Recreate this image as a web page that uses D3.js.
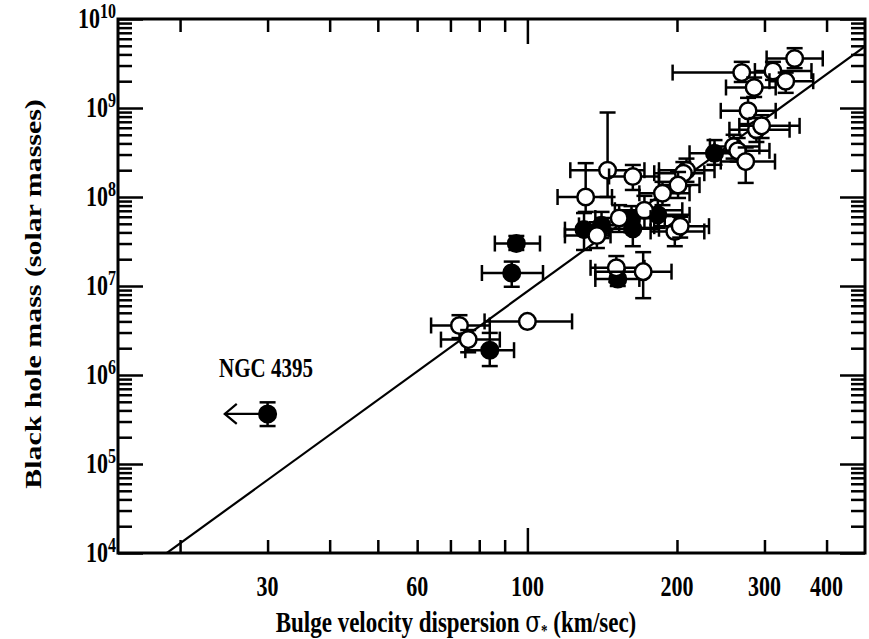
<!DOCTYPE html>
<html>
<head>
<meta charset="utf-8">
<script src="https://cdn.jsdelivr.net/npm/d3@7"></script>
<style>
  html, body { margin: 0; padding: 0; background: #fff; }
  svg text { font-family: "Liberation Serif", "Times New Roman", serif; font-weight: bold; fill: #000; }
</style>
</head>
<body>
<div id="chart"></div>
<script>
// [sigma, sigmaLo, sigmaHi, mass, massLo, massHi]
const openPoints = [
  [345, 303, 393, 3.6e9, 2.8e9, 4.7e9],
  [270, 196, 316, 2.5e9, 1.96e9, 3.3e9],
  [312, 287, 373, 2.6e9, 2.07e9, 3.3e9],
  [331, 307, 376, 2.0e9, 1.48e9, 2.5e9],
  [286, 251, 316, 1.7e9, 1.33e9, 2.2e9],
  [278, 245, 316, 9.3e8, 6.6e8, 1.3e9],
  [289, 255, 337, 5.7e8, 4.15e8, 7.7e8],
  [296, 267, 353, 6.3e8, 4.6e8, 8.3e8],
  [260, 233, 293, 3.7e8, 2.7e8, 5.0e8],
  [265, 238, 307, 3.3e8, 2.5e8, 4.6e8],
  [275, 245, 315, 2.5e8, 1.44e8, 3.6e8],
  [209, 184, 238, 2.0e8, 1.48e8, 2.7e8],
  [206, 180, 227, 1.85e8, 1.33e8, 2.47e8],
  [201, 184, 222, 1.36e8, 9.75e7, 1.91e8],
  [187, 168, 212, 1.1e8, 8.1e7, 1.48e8],
  [145, 122, 172, 2.0e8, 1.0e8, 8.9e8],
  [163, 146, 184, 1.7e8, 1.2e8, 2.29e8],
  [131, 115, 148, 1.0e8, 6.8e7, 2.4e8],
  [172, 150, 205, 7.1e7, 4.5e7, 1.03e8],
  [153, 137, 177, 5.8e7, 4.05e7, 8.1e7],
  [138, 119, 147, 3.7e7, 2.67e7, 5.2e7],
  [198, 177, 227, 4.1e7, 2.8e7, 6.1e7],
  [203, 180, 232, 4.7e7, 3.5e7, 6.0e7],
  [151, 134, 172, 1.6e7, 1.11e7, 2.17e7],
  [171, 137, 195, 1.45e7, 7.3e6, 2.4e7],
  [100, 82, 123, 4.0e6, 4.0e6, 4.0e6],
  [73, 64, 84, 3.6e6, 2.6e6, 4.7e6],
  [76, 67, 88, 2.5e6, 1.8e6, 3.2e6]
];

const filledPoints = [
  [238, 212, 270, 3.1e8, 2.3e8, 4.36e8],
  [183, 168, 212, 6.3e7, 4.5e7, 9.25e7],
  [162, 153, 189, 5.8e7, 4.05e7, 7.9e7],
  [163, 146, 184, 4.4e7, 2.8e7, 6.8e7],
  [141, 127, 157, 4.8e7, 3.46e7, 6.8e7],
  [130, 119, 140, 4.3e7, 2.54e7, 6.6e7],
  [95, 86, 106, 3.0e7, 2.54e7, 3.65e7],
  [93, 81, 107.5, 1.4e7, 9.8e6, 1.88e7],
  [152, 137, 168, 1.2e7, 1.0e7, 1.51e7],
  [84, 75, 94, 1.9e6, 1.26e6, 2.97e6],
  [30, 30, 30, 3.65e5, 2.67e5, 4.93e5]
];

// NGC 4395: upper limit on sigma
const ngc4395 = { sigma: 30, limit: 24.6, mass: 3.65e5, label: "NGC 4395" };

// M-sigma relation: M = norm * (sigma / 200)^slope
const fitNorm = 1.44e8;
const fitSlope = 4.05;

const xMinorTicks = [20, 30, 40, 50, 60, 70, 80, 90, 200, 300, 400];
const xMajorTicks = [100];
const xTickLabels = [30, 60, 100, 200, 300, 400];
const yMajorTicks = [1e4, 1e5, 1e6, 1e7, 1e8, 1e9, 1e10];
const yExponents = [4, 5, 6, 7, 8, 9, 10];

const width = 869;
const height = 639;
const stretch = 1.3; // glyphs in the original are drawn taller than wide

const x = d3.scaleLog().domain([15, 478]).range([118, 865]);
const y = d3.scaleLog().domain([1e4, 1e10]).range([553, 19]);

const yMinorTicks = [];
for (let e = 4; e < 10; e++) {
  for (let k = 2; k <= 9; k++) yMinorTicks.push(k * Math.pow(10, e));
}

const svg = d3
  .select("#chart")
  .append("svg")
  .attr("width", width)
  .attr("height", height);

const [x0, x1] = x.range();
const [y0, y1] = [y.range()[1], y.range()[0]];

svg.append("defs").append("clipPath").attr("id", "plot-clip")
  .append("rect")
  .attr("x", x0).attr("y", y0)
  .attr("width", x1 - x0).attr("height", y1 - y0);

// text helper: baseline at (tx, ty), stretched along the page's vertical
function label(tx, ty, size, anchor) {
  return svg.append("text")
    .attr("transform", `translate(${tx},${ty}) scale(1,${stretch})`)
    .attr("text-anchor", anchor)
    .style("font-size", size + "px");
}

// ticks (all pointing inward)
function tickAxis(axis, tx, ty, values, size) {
  const g = svg.append("g")
    .attr("transform", `translate(${tx},${ty})`)
    .call(axis.tickValues(values).tickSize(size).tickFormat(""));
  g.select(".domain").remove();
  g.selectAll(".tick line").attr("stroke", "#000").attr("stroke-width", 2.5);
}
tickAxis(d3.axisBottom(x), 0, y1, xMinorTicks, -13);
tickAxis(d3.axisBottom(x), 0, y1, xMajorTicks, -25);
tickAxis(d3.axisTop(x), 0, y0, xMinorTicks, -13);
tickAxis(d3.axisTop(x), 0, y0, xMajorTicks, -25);
tickAxis(d3.axisLeft(y), x0, 0, yMinorTicks, -14);
tickAxis(d3.axisLeft(y), x0, 0, yMajorTicks, -25);
tickAxis(d3.axisRight(y), x1, 0, yMinorTicks, -14);
tickAxis(d3.axisRight(y), x1, 0, yMajorTicks, -25);

// frame
svg.append("rect")
  .attr("x", x0).attr("y", y0)
  .attr("width", x1 - x0).attr("height", y1 - y0)
  .attr("fill", "none")
  .attr("stroke", "#000")
  .attr("stroke-width", 3);

// x tick labels
xTickLabels.forEach((v) => {
  label(x(v), 596, 22, "middle").text(d3.format("d")(v));
});

// y tick labels
yMajorTicks.forEach((v, i) => {
  const t = label(116, y(v) + 9, 22, "end");
  t.append("tspan").text("10");
  t.append("tspan")
    .attr("dy", -8)
    .style("font-size", "16px")
    .text(yExponents[i]);
});

// axis titles
const xt = label(456, 632, 23, "middle");
xt.append("tspan").text("Bulge velocity dispersion ");
xt.append("tspan").style("font-family", "DejaVu Serif, serif").style("font-weight", "normal").text("σ");
xt.append("tspan").attr("dy", 3).style("font-size", "13px").text("*");
xt.append("tspan").attr("dy", -3).text(" (km/sec)");

svg.append("text")
  .attr("transform", `translate(41,294) scale(1,${stretch}) rotate(-90)`)
  .attr("text-anchor", "middle")
  .style("font-size", "23px")
  .text("Black hole mass (solar masses)");

// plot content
const plot = svg.append("g").attr("clip-path", "url(#plot-clip)");

// fit line
const fitLine = d3.line()
  .x((s) => x(s))
  .y((s) => y(fitNorm * Math.pow(s / 200, fitSlope)));
plot.append("path")
  .datum(x.domain())
  .attr("d", fitLine)
  .attr("fill", "none")
  .attr("stroke", "#000")
  .attr("stroke-width", 2.2);

const cap = 8;
function drawPoint(d, filled) {
  const [s, sLo, sHi, m, mLo, mHi] = d;
  const cx = x(s), cy = y(m);
  const g = plot.append("g").attr("stroke", "#000").attr("stroke-width", 2.5);
  if (sLo !== sHi) {
    g.append("line").attr("x1", x(sLo)).attr("x2", x(sHi)).attr("y1", cy).attr("y2", cy);
    g.append("line").attr("x1", x(sLo)).attr("x2", x(sLo)).attr("y1", cy - cap).attr("y2", cy + cap);
    g.append("line").attr("x1", x(sHi)).attr("x2", x(sHi)).attr("y1", cy - cap).attr("y2", cy + cap);
  }
  if (mLo !== mHi) {
    g.append("line").attr("x1", cx).attr("x2", cx).attr("y1", y(mLo)).attr("y2", y(mHi));
    g.append("line").attr("x1", cx - cap).attr("x2", cx + cap).attr("y1", y(mLo)).attr("y2", y(mLo));
    g.append("line").attr("x1", cx - cap).attr("x2", cx + cap).attr("y1", y(mHi)).attr("y2", y(mHi));
  }
  g.append("circle")
    .attr("cx", cx).attr("cy", cy).attr("r", 8.3)
    .attr("fill", filled ? "#000" : "#fff");
}

filledPoints.forEach((d) => drawPoint(d, true));
openPoints.forEach((d) => drawPoint(d, false));

// NGC 4395 upper-limit arrow
const ax = x(ngc4395.limit), ay = y(ngc4395.mass);
const arrow = plot.append("g").attr("stroke", "#000").attr("stroke-width", 2.2).attr("fill", "none");
arrow.append("line").attr("x1", x(ngc4395.sigma)).attr("x2", ax).attr("y1", ay).attr("y2", ay);
arrow.append("path").attr("d", `M${ax + 12},${ay - 10} L${ax},${ay} L${ax + 12},${ay + 10}`);

label(219, 377, 21, "start").text(ngc4395.label);
</script>
</body>
</html>
